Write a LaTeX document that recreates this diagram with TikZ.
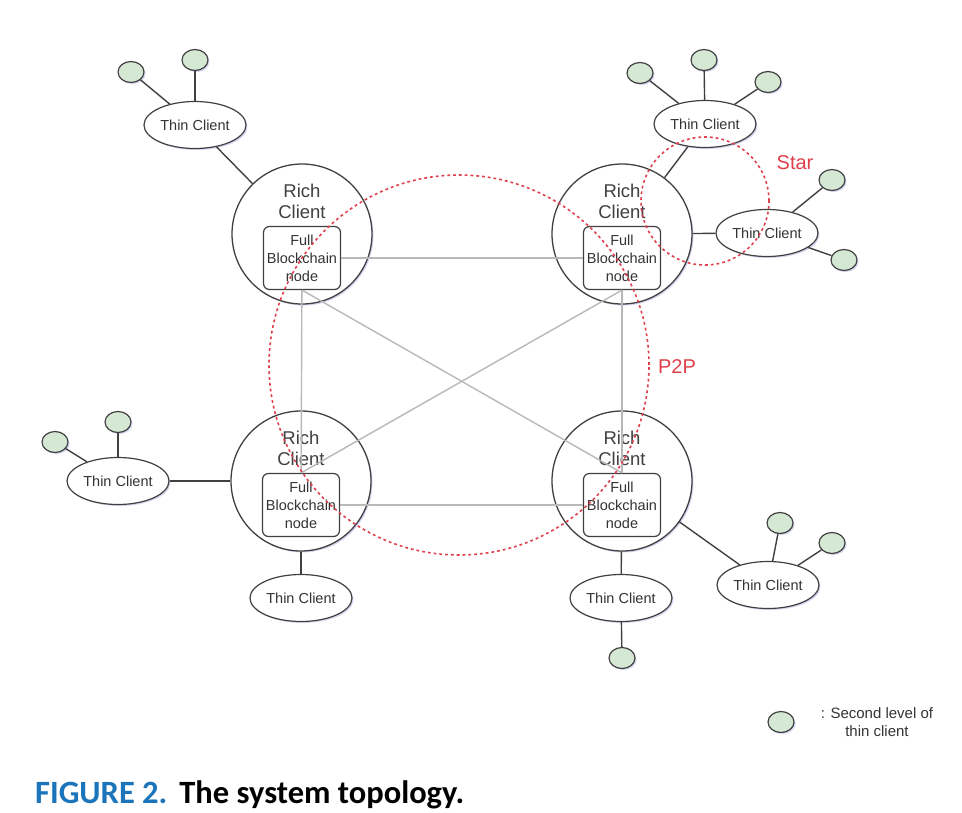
\documentclass[tikz,border=0pt]{standalone}
\usepackage{fontspec}
\setmainfont{Liberation Sans}
\newfontfamily\capfont{Carlito}
\usepackage{xcolor}
\usepackage{tikz}
\usetikzlibrary{
    positioning,
    shapes.geometric,
    shadows,
}
\definecolor{leafgreen}{HTML}{D5E8D4}
\definecolor{zonered}{HTML}{E0404C}
\definecolor{capblue}{HTML}{1C75BA}

\begin{document}
\begin{tikzpicture}[
        x=1pt, y=-1pt,
        soft/.style={drop shadow={shadow xshift=1.5pt, shadow yshift=-1.5pt, opacity=0.22, fill=blue!50!gray}},
        rich/.style={
            circle, draw=black!75, line width=1.3pt, fill=white,
            minimum size=140pt, inner sep=0pt, soft
        },
        richtext/.style={
            align=center, text=black!75, inner sep=0pt,
            font=\fontsize{18.5}{21}\selectfont
        },
        chain/.style={
            rectangle, rounded corners=6pt, draw=black!75, line width=1.2pt,
            fill=white, minimum width=77pt, minimum height=63pt, inner sep=0pt,
            align=center, text=black!80, font=\fontsize{14.5}{18}\selectfont
        },
        thin/.style={
            ellipse, draw=black!75, line width=1.2pt, fill=white,
            minimum width=102pt, minimum height=47pt, inner sep=0pt,
            text=black!80, font=\fontsize{14.5}{17}\selectfont, soft
        },
        leaf/.style={
            ellipse, draw=black!75, line width=1.2pt, fill=leafgreen,
            minimum width=26pt, minimum height=21pt, inner sep=0pt, soft
        },
        link/.style={black!75, line width=1.4pt},
        mesh/.style={black!28, line width=1.4pt},
        zone/.style={
            circle, draw=zonered, line width=1.6pt, inner sep=0pt,
            dash pattern=on 2.8pt off 3pt
        },
        tag/.style={text=zonered, font=\fontsize{20}{22}\selectfont},
    ]
    \useasboundingbox (0,0) rectangle (962,812);

    % ── Rich clients ──
    \node[rich] (nw) at (302,234) {};
    \node[rich] (ne) at (622,234) {};
    \node[rich] (sw) at (301,481) {};
    \node[rich] (se) at (622,481) {};

    \foreach \r in {nw, ne, sw, se} {
        \node[richtext] (\r l) at ([yshift=33pt]\r) {Rich\\Client};
        \node[chain] (\r c) at ([yshift=-24pt]\r) {Full\\Blockchain\\node};
    }

    % ── Mesh between full nodes ──
    \draw[mesh] (nwc) -- (nec);
    \draw[mesh] (swc) -- (sec);
    \draw[mesh] (nwc) -- (swc);
    \draw[mesh] (nec) -- (sec);
    \draw[mesh] (nwc.south) -- (sec.north);
    \draw[mesh] (swc.north) -- (nec.south);

    % ── Thin clients ──
    \node[thin] (nwt) at (195,125) {Thin Client};
    \node[thin] (net1) at (705,124) {Thin Client};
    \node[thin] (net2) at (767,233) {Thin Client};
    \node[thin] (swt1) at (118,481) {Thin Client};
    \node[thin] (swt2) at (301,598) {Thin Client};
    \node[thin] (set1) at (621,598) {Thin Client};
    \node[thin] (set2) at (768,585) {Thin Client};

    \draw[link] (nwt) -- (nw);
    \draw[link] (net1) -- (ne);
    \draw[link] (ne) -- (net2);
    \draw[link] (swt1) -- (sw);
    \draw[link] (sw) -- (swt2);
    \draw[link] (se) -- (set1);
    \draw[link] (se) -- (set2);

    % ── Second level thin clients ──
    \node[leaf] (nwt1a) at (131,72) {};
    \node[leaf] (nwt1b) at (195,60) {};
    \node[leaf] (net1a) at (640,73) {};
    \node[leaf] (net1b) at (704,60) {};
    \node[leaf] (net1c) at (768,82) {};
    \node[leaf] (net2a) at (832,180) {};
    \node[leaf] (net2b) at (844,260) {};
    \node[leaf] (swt1a) at (55,442) {};
    \node[leaf] (swt1b) at (118,422) {};
    \node[leaf] (set1a) at (622,658) {};
    \node[leaf] (set2a) at (780,523) {};
    \node[leaf] (set2b) at (832,543) {};

    \draw[link] (nwt1a) -- (nwt);
    \draw[link] (nwt1b) -- (nwt);
    \foreach \l in {net1a, net1b, net1c} \draw[link] (\l) -- (net1);
    \foreach \l in {net2a, net2b} \draw[link] (\l) -- (net2);
    \foreach \l in {swt1a, swt1b} \draw[link] (\l) -- (swt1);
    \draw[link] (set1) -- (set1a);
    \foreach \l in {set2a, set2b} \draw[link] (\l) -- (set2);

    % ── Zones ──
    \node[zone, minimum size=380pt] (p2p) at (459,365) {};
    \node[zone, minimum size=128pt] (star) at (705,201) {};
    \node[tag] (startag) at (795,163) {Star};
    \node[tag] (p2ptag) at (677,367) {P2P};

    % ── Legend ──
    \node[leaf] (key) at (781,722) {};
    \node[align=center, text=black!80, inner sep=0pt, font=\fontsize{15}{18}\selectfont,
        right=26pt of key] (keytext) {: Second level of\\thin client};

    % ── Caption ──
    \node[anchor=base west, inner sep=0pt, font=\capfont\bfseries\fontsize{32.5}{36}\selectfont]
        (caption) at (35,803) {\textcolor{capblue}{FIGURE 2.}\hspace{12pt}The system topology.};

\end{tikzpicture}
\end{document}
